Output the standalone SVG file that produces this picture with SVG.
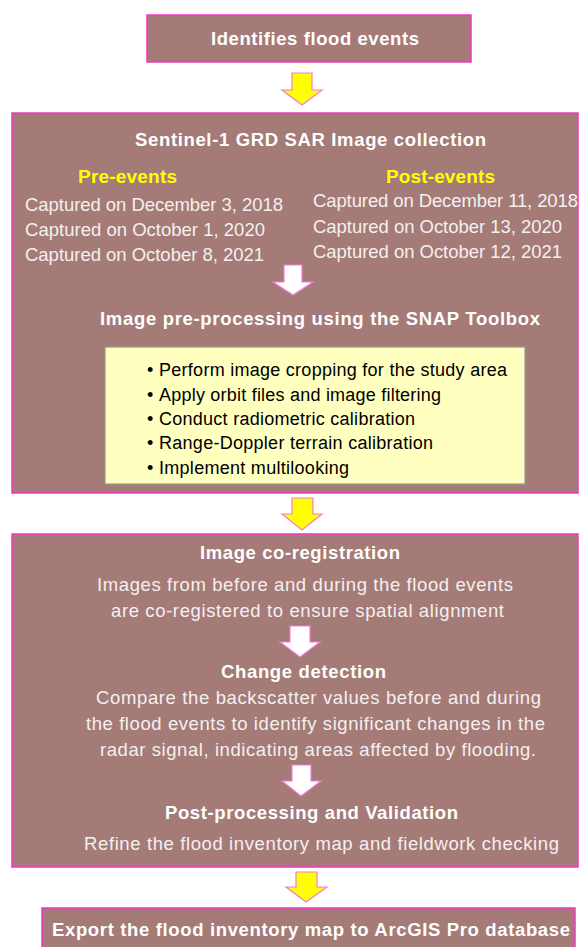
<svg xmlns="http://www.w3.org/2000/svg" width="580" height="947" viewBox="0 0 580 947">
<style>
.box{fill:#a47b77;stroke:#f535c8;stroke-width:1.5}
.inner{fill:#ffffc0;stroke:#9a9a8a;stroke-width:1.2}
.h{font-family:"Liberation Sans",Arial,sans-serif;font-weight:bold;font-size:18.5px;fill:#ffffff}
.t{font-family:"Liberation Sans",Arial,sans-serif;font-size:18.5px;fill:#f4f0f0}
.y{font-family:"Liberation Sans",Arial,sans-serif;font-weight:bold;font-size:19px;fill:#ffff00}
.b{font-family:"Liberation Sans",Arial,sans-serif;font-size:18px;fill:#000000}
.ya{fill:#ffff00;stroke:#f57ad8;stroke-width:1.2}
.wa{fill:#ffffff;stroke:#f57ad8;stroke-width:1.2}
</style>
<rect width="580" height="947" fill="#ffffff"/>
<g id="node-identify">
<rect class="box" x="147" y="15" width="324" height="47"/>
<text class="h" x="211" y="45" font-size="20" textLength="208" lengthAdjust="spacing">Identifies flood events</text>
</g>
<g id="node-collection">
<rect class="box" x="12" y="113" width="566" height="380"/>
<text class="h" x="135" y="146" textLength="351" lengthAdjust="spacing">Sentinel-1 GRD SAR Image collection</text>
<text class="y" x="78" y="183" textLength="99" lengthAdjust="spacing">Pre-events</text>
<text class="y" x="386" y="183" textLength="109" lengthAdjust="spacing">Post-events</text>
<text class="t" x="25" y="211" textLength="258" lengthAdjust="spacing">Captured on December 3, 2018</text>
<text class="t" x="25" y="236" textLength="240" lengthAdjust="spacing">Captured on October 1, 2020</text>
<text class="t" x="25" y="261" textLength="239" lengthAdjust="spacing">Captured on October 8, 2021</text>
<text class="t" x="313" y="207" textLength="265" lengthAdjust="spacing">Captured on December 11, 2018</text>
<text class="t" x="313" y="233" textLength="249" lengthAdjust="spacing">Captured on October 13, 2020</text>
<text class="t" x="313" y="258" textLength="249" lengthAdjust="spacing">Captured on October 12, 2021</text>
<text class="h" x="100" y="325" textLength="440" lengthAdjust="spacing">Image pre-processing using the SNAP Toolbox</text>
</g>
<g id="node-snap-steps">
<rect class="inner" x="105" y="347" width="420" height="137"/>
<text class="b" x="147" y="376">•</text>
<text class="b" x="159" y="376" textLength="348" lengthAdjust="spacing">Perform image cropping for the study area</text>
<text class="b" x="147" y="401">•</text>
<text class="b" x="159" y="401" textLength="282" lengthAdjust="spacing">Apply orbit files and image filtering</text>
<text class="b" x="147" y="425">•</text>
<text class="b" x="159" y="425" textLength="256" lengthAdjust="spacing">Conduct radiometric calibration</text>
<text class="b" x="147" y="449">•</text>
<text class="b" x="159" y="449" textLength="274" lengthAdjust="spacing">Range-Doppler terrain calibration</text>
<text class="b" x="147" y="474">•</text>
<text class="b" x="159" y="474" textLength="190" lengthAdjust="spacing">Implement multilooking</text>
</g>
<g id="node-processing">
<rect class="box" x="12" y="534" width="566" height="333"/>
<text class="h" x="200" y="559" textLength="200" lengthAdjust="spacing">Image co-registration</text>
<text class="t" x="97" y="591" textLength="416" lengthAdjust="spacing">Images from before and during the flood events</text>
<text class="t" x="111" y="617" textLength="393" lengthAdjust="spacing">are co-registered to ensure spatial alignment</text>
<text class="h" x="221" y="678" textLength="165" lengthAdjust="spacing">Change detection</text>
<text class="t" x="96" y="704" textLength="445" lengthAdjust="spacing">Compare the backscatter values before and during</text>
<text class="t" x="86" y="730" textLength="459" lengthAdjust="spacing">the flood events to identify significant changes in the</text>
<text class="t" x="100" y="756" textLength="436" lengthAdjust="spacing">radar signal, indicating areas affected by flooding.</text>
<text class="h" x="165" y="819" textLength="293" lengthAdjust="spacing">Post-processing and Validation</text>
<text class="t" x="84" y="850" textLength="475" lengthAdjust="spacing">Refine the flood inventory map and fieldwork checking</text>
</g>
<g id="node-export">
<rect class="box" x="42" y="908" width="533" height="45"/>
<text class="h" x="52" y="936" font-size="19" textLength="518" lengthAdjust="spacing">Export the flood inventory map to ArcGIS Pro database</text>
</g>
<g id="connectors">
<path class="ya" d="M292,73 H312 V90 H322 L302,105 L282,90 H292 Z"/>
<path class="wa" d="M284,265 H302 V282 H313 L293,295 L273,282 H284 Z"/>
<path class="ya" d="M292,498 H313 V514 H322 L302,530 L282,514 H292 Z"/>
<path class="wa" d="M290,626 H310 V642 H320 L300,657 L280,642 H290 Z"/>
<path class="wa" d="M292,765 H311 V781 H321 L301,796 L282,781 H292 Z"/>
<path class="ya" d="M296,872 H317 V887 H327 L306,902 L286,887 H296 Z"/>
</g>
</svg>
